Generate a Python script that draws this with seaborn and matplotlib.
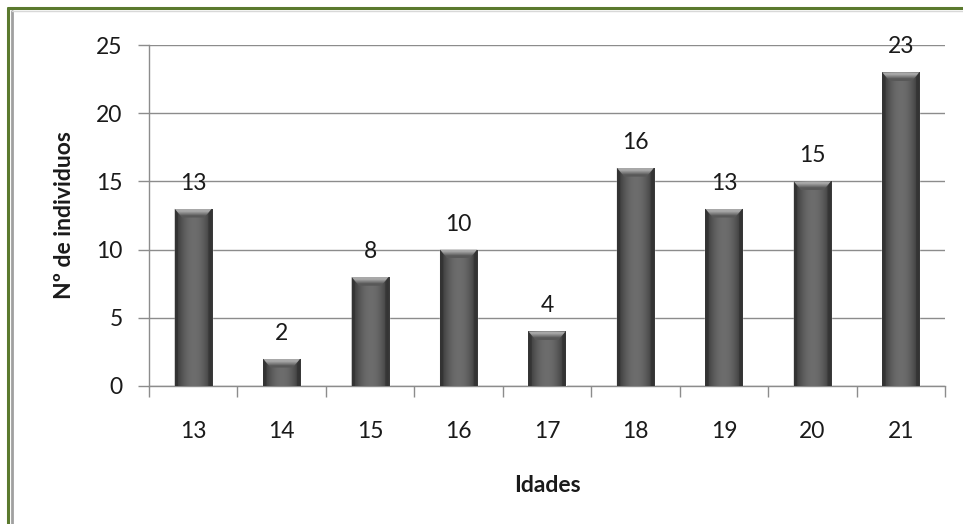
import numpy as np
import pandas as pd
import matplotlib
matplotlib.use("Agg")
import matplotlib.pyplot as plt
from matplotlib.lines import Line2D
from matplotlib.patches import Polygon
import seaborn as sns

idades = ["13", "14", "15", "16", "17", "18", "19", "20", "21"]
individuos = [13, 2, 8, 10, 4, 16, 13, 15, 23]
y_ticks = [0, 5, 10, 15, 20, 25]

sns.set_style("white")
plt.rcParams["font.family"] = ["Lato", "DejaVu Sans"]

df = pd.DataFrame({"Idades": idades, "n": individuos})
FS = 16.5

fig = plt.figure(figsize=(9.63, 5.24), dpi=100)
ax = fig.add_axes([0.1547, 0.2634, 0.8266, 0.6507])

sns.barplot(data=df, x="Idades", y="n", order=idades, color="#4d4d4d",
            width=0.42, saturation=1, ax=ax, zorder=3)

# shaded bevel on each bar: horizontal gradient plus light top facet
grad = np.array([[0.0, 0.35, 0.6, 0.75, 0.8, 0.75, 0.6, 0.35, 0.0]])
cmap = matplotlib.colors.LinearSegmentedColormap.from_list(
    "bar", ["#3a3a3a", "#6e6e6e"])
top_cmap = matplotlib.colors.LinearSegmentedColormap.from_list(
    "top", ["#585858", "#a8a8a8"])
for bar in ax.patches:
    x0, y0 = bar.get_x(), bar.get_y()
    w, h = bar.get_width(), bar.get_height()
    im = ax.imshow(grad, cmap=cmap, vmin=0, vmax=0.8, aspect="auto",
                   extent=(x0, x0 + w, y0, y0 + h), zorder=3.5,
                   interpolation="bicubic")
    im.set_clip_path(bar)
    bev = 0.65
    inset = w * 0.2
    top = Polygon([(x0, y0 + h), (x0 + w, y0 + h),
                   (x0 + w - inset, y0 + h - bev), (x0 + inset, y0 + h - bev)],
                  closed=True, facecolor="none", edgecolor="none", zorder=4)
    ax.add_patch(top)
    tim = ax.imshow(np.array([[0.0], [1.0]]), cmap=top_cmap, vmin=0, vmax=1,
                    aspect="auto", origin="lower",
                    extent=(x0, x0 + w, y0 + h - bev, y0 + h), zorder=4,
                    interpolation="bilinear")
    tim.set_clip_path(top)
    for sgn, xe in ((1, x0), (-1, x0 + w)):
        side = Polygon([(xe, y0 + h), (xe + sgn * inset * 0.45, y0 + h - bev * 0.6),
                        (xe + sgn * inset * 0.45, y0), (xe, y0)],
                       closed=True, facecolor="#2e2e2e", edgecolor="none",
                       alpha=0.6, zorder=4)
        ax.add_patch(side)
    ax.text(x0 + w / 2, y0 + h + 1.1, f"{int(round(h))}", ha="center",
            va="bottom", fontsize=FS, color="#1a1a1a", zorder=5)

ax.set_xlim(-0.5, len(idades) - 0.5)
ax.set_ylim(0, 25)
ax.set_yticks(y_ticks)
ax.yaxis.grid(True, color="#8c8c8c", linewidth=1.0, zorder=0)
ax.set_axisbelow(True)

for s in ["top", "right"]:
    ax.spines[s].set_visible(False)
for s in ["left", "bottom"]:
    ax.spines[s].set_color("#8c8c8c")
    ax.spines[s].set_linewidth(1.0)

ax.tick_params(axis="y", which="major", direction="out", length=8,
               width=1.0, color="#8c8c8c", labelsize=FS, pad=11,
               labelcolor="#1a1a1a", left=True)
ax.tick_params(axis="x", which="major", length=0, labelsize=FS, pad=25,
               labelcolor="#1a1a1a")
ax.set_xticks(np.arange(-0.5, len(idades), 1.0), minor=True)
ax.tick_params(axis="x", which="minor", direction="out", length=8,
               width=1.0, color="#8c8c8c", bottom=True)

ax.set_xlabel("Idades", fontsize=FS, fontweight="bold", labelpad=24,
              color="#1a1a1a")
ax.set_ylabel("Nº de individuos", fontsize=FS, fontweight="bold",
              labelpad=15, color="#1a1a1a")

# chart frame: green rules along top and left with grey inner rule
fig.add_artist(Line2D([7.5 / 963, 1.0], [1 - 8 / 524, 1 - 8 / 524],
                      transform=fig.transFigure, color="#5b7a2e", lw=2.2))
fig.add_artist(Line2D([7.5 / 963, 7.5 / 963], [0, 1 - 8 / 524],
                      transform=fig.transFigure, color="#5b7a2e", lw=2.2))
fig.add_artist(Line2D([11.5 / 963, 11.5 / 963], [0, 1 - 11 / 524],
                      transform=fig.transFigure, color="#a0a0a0", lw=2.0))
fig.add_artist(Line2D([11.5 / 963, 1.0], [1 - 11 / 524, 1 - 11 / 524],
                      transform=fig.transFigure, color="#d8d8d8", lw=1.0))

fig.savefig("out.png", dpi=100)
